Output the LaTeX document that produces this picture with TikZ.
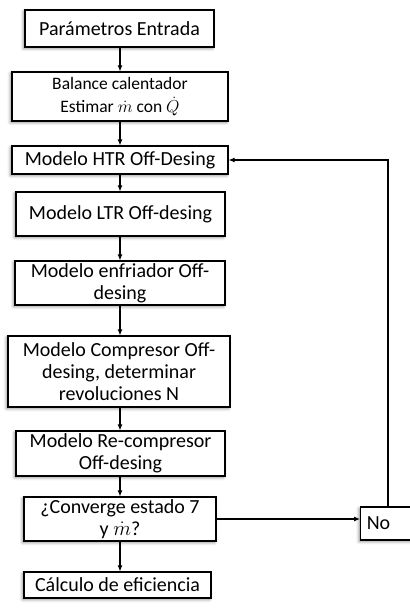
\documentclass[tikz,border=0pt]{standalone}
\usepackage{fontspec}
\setmainfont{Carlito}
\usetikzlibrary{arrows.meta,shadows.blur}
\begin{document}
\begin{tikzpicture}[x=1pt,y=-1pt,
  proc/.style={draw=black,line width=1.1pt,fill=white,inner sep=0pt,align=center,
    font=\fontsize{20}{22}\selectfont,
    blur shadow={shadow xshift=-1.5pt,shadow yshift=-1.5pt,shadow blur radius=3pt,shadow opacity=45}},
  flow/.style={line width=1.1pt,-{Latex[length=6pt,width=5pt]}}]
\useasboundingbox (0,0) rectangle (409,609);
% process boxes, sized by their corners
\node[proc,minimum width=189pt,minimum height=37pt] (p1) at (119.5,28.5) {Parámetros Entrada};
\node[proc,minimum width=216pt,minimum height=49pt,font=\fontsize{17.5}{23}\selectfont] (p2) at (120,96.5)
  {Balance calentador\\Estimar $\dot{m}$ con $\dot{Q}$};
\node[proc,minimum width=216pt,minimum height=28pt] (p3) at (120,160) {Modelo HTR Off-Desing};
\node[proc,minimum width=209pt,minimum height=44pt] (p4) at (120.5,214) {Modelo LTR Off-desing};
\node[proc,minimum width=210pt,minimum height=44pt] (p5) at (120,283) {Modelo enfriador Off-\\desing};
\node[proc,minimum width=222pt,minimum height=71pt] (p6) at (119,371.5) {Modelo Compresor Off-\\desing, determinar\\revoluciones N};
\node[proc,minimum width=209pt,minimum height=45pt] (p7) at (120.5,453.5) {Modelo Re-compresor\\Off-desing};
\node[proc,minimum width=192pt,minimum height=44pt] (p8) at (120,519) {¿Converge estado 7\\y $\dot{m}$?};
\node[proc,minimum width=187pt,minimum height=26pt] (p9) at (117.5,585) {Cálculo de eficiencia};
\node[proc,minimum width=56pt,minimum height=33pt,anchor=west] (no) at (360,523.5) {No\hspace*{20pt}};
% connectors
\draw[flow] (p1.south -| 120,0) -- (p2.north -| 120,0);
\draw[flow] (p2.south -| 120,0) -- (p3.north -| 120,0);
\draw[flow] (p3.south -| 120,0) -- (p4.north -| 120,0);
\draw[flow] (p4.south -| 120,0) -- (p5.north -| 120,0);
\draw[flow] (p5.south -| 120,0) -- (p6.north -| 120,0);
\draw[flow] (p6.south -| 120,0) -- (p7.north -| 120,0);
\draw[flow] (p7.south -| 120,0) -- (p8.north -| 120,0);
\draw[flow] (p8.south -| 120,0) -- (p9.north -| 120,0);
\draw[flow] (p8.east) -- (p8.east -| no.west);
\coordinate (up) at (388,160);
\draw[flow] (no.north -| up) -- (up) -- (p3.east);
\end{tikzpicture}
\end{document}
